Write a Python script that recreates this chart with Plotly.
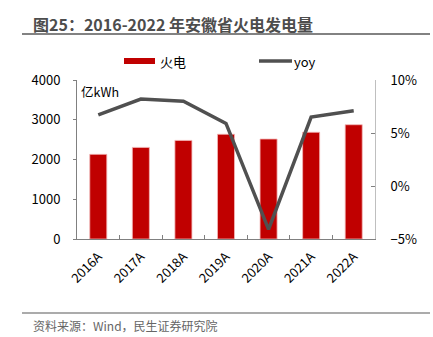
import plotly.graph_objects as go

# Anhui thermal power generation, 2016-2022
years = ["2016A", "2017A", "2018A", "2019A", "2020A", "2021A", "2022A"]
thermal_gen = [2130, 2305, 2480, 2635, 2515, 2685, 2875]  # 亿kWh
yoy_pct = [6.7, 8.2, 8.0, 5.9, -4.1, 6.5, 7.1]  # %

font_cn = "Noto Sans CJK SC, Microsoft YaHei, sans-serif"

fig = go.Figure()
fig.add_trace(go.Bar(
    x=years, y=thermal_gen, name="火电",
    marker=dict(color="#C00000", line=dict(color="#F2B8B8", width=0.8)),
    width=0.4, yaxis="y",
))
fig.add_trace(go.Scatter(
    x=years, y=yoy_pct, name="yoy", mode="lines",
    line=dict(color="#505050", width=3.5), yaxis="y2",
))

fig.update_layout(
    width=433, height=337,
    margin=dict(l=77, r=58, t=80, b=98),
    paper_bgcolor="white", plot_bgcolor="white",
    font=dict(family=font_cn, size=13, color="#000000"),
    showlegend=False,
    bargap=0.6,
    xaxis=dict(
        type="category", showline=True, linecolor="#808080", linewidth=1,
        ticks="inside", ticklen=4, tickcolor="#808080", tickson="boundaries",
        tickangle=-45, tickfont=dict(size=13, color="#000000"),
        ticklabelstandoff=4,
        showgrid=False, zeroline=False,
    ),
    yaxis=dict(
        range=[0, 4000], dtick=1000, showline=True, linecolor="#808080",
        ticks="outside", ticklen=3, tickcolor="#808080",
        showgrid=False, zeroline=False, ticklabelstandoff=10,
        tickfont=dict(size=13),
    ),
    yaxis2=dict(
        range=[-5, 10], dtick=5, overlaying="y", side="right",
        showline=True, linecolor="#BFBFBF", ticks="inside", ticklen=4,
        tickcolor="#808080", ticksuffix="%", showgrid=False, zeroline=False,
        ticklabelstandoff=12, tickfont=dict(size=13),
    ),
)

# Title and rule lines
fig.add_annotation(
    text="<b>图25：2016-2022 年安徽省火电发电量</b>", xref="paper", yref="paper",
    x=(31 - 77) / 298, y=(337 - 98 - 24) / 159, xanchor="left", yanchor="middle",
    showarrow=False, font=dict(size=16, color="#4D4D4D", family=font_cn),
)
fig.add_shape(type="line", xref="paper", yref="paper",
              x0=(22 - 77) / 298, x1=(430 - 77) / 298,
              y0=(239 - 34) / 159, y1=(239 - 34) / 159,
              line=dict(color="#595959", width=1.5))
fig.add_shape(type="line", xref="paper", yref="paper",
              x0=(22 - 77) / 298, x1=(430 - 77) / 298,
              y0=(239 - 313) / 159, y1=(239 - 313) / 159,
              line=dict(color="#595959", width=1.2))
fig.add_annotation(
    text="资料来源：Wind，民生证券研究院", xref="paper", yref="paper",
    x=(31 - 77) / 298, y=(239 - 325) / 159, xanchor="left", yanchor="middle",
    showarrow=False, font=dict(size=12, color="#666666", family=font_cn),
)

# Unit label
fig.add_annotation(
    text="亿kWh", xref="paper", yref="paper",
    x=(79 - 77) / 298, y=(239 - 91) / 159, xanchor="left", yanchor="middle",
    showarrow=False, font=dict(size=12.5, color="#000000", family=font_cn),
)

# Legend drawn by hand
leg_y = (239 - 61) / 159
fig.add_shape(type="rect", xref="paper", yref="paper",
              x0=(124 - 77) / 298, x1=(155 - 77) / 298,
              y0=(239 - 64) / 159, y1=(239 - 58) / 159,
              fillcolor="#C00000", line=dict(width=0))
fig.add_annotation(text="火电", xref="paper", yref="paper",
                   x=(158 - 77) / 298, y=leg_y, xanchor="left", yanchor="middle",
                   showarrow=False, font=dict(size=13, family=font_cn))
fig.add_shape(type="line", xref="paper", yref="paper",
              x0=(259 - 77) / 298, x1=(292 - 77) / 298, y0=leg_y, y1=leg_y,
              line=dict(color="#505050", width=3.5))
fig.add_annotation(text="yoy", xref="paper", yref="paper",
                   x=(292 - 77) / 298, y=leg_y, xanchor="left", yanchor="middle",
                   showarrow=False, font=dict(size=13, family=font_cn))

fig.write_html("out.html")
